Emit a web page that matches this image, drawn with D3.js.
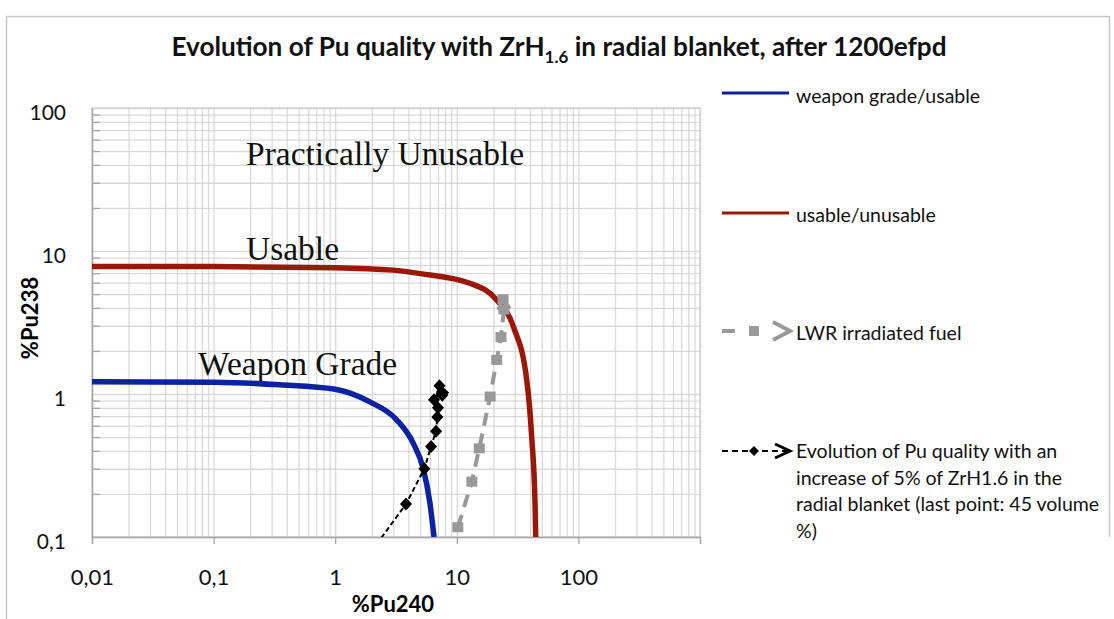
<!DOCTYPE html>
<html><head><meta charset="utf-8">
<script src="https://cdn.jsdelivr.net/npm/d3@7"></script>
<style>
html,body{margin:0;padding:0;background:#fff;}
svg{display:block;}
</style></head>
<body>
<svg id="chart" width="1114" height="619"></svg>
<script>
// ---- data ----
const xTickValues = [0.01, 0.1, 1, 10, 100];
const xTickLabels = ["0,01", "0,1", "1", "10", "100"];
const yTickValues = [0.1, 1, 10, 100];
const yTickLabels = ["0,1", "1", "10", "100"];

// weapon grade / usable boundary
const wgX = [0.01, 0.1, 0.35, 1, 1.93, 3.2, 4.4, 5.3, 6.0, 6.5];
const wgY = [1.22, 1.21, 1.16, 1.08, 0.88, 0.66, 0.45, 0.30, 0.175, 0.1];
// usable / unusable boundary
const uuX = [0.01, 0.1, 1, 3, 5, 12.8, 21.3, 29.2, 37.6, 41.3, 44, 44.6];
const uuY = [7.8, 7.78, 7.65, 7.35, 6.95, 5.95, 4.54, 2.96, 1.25, 0.5, 0.17, 0.1];
// LWR irradiated fuel
const lwrX = [10.2, 13.3, 15.3, 18.8, 21.3, 23.1, 24.4, 24.0];
const lwrY = [0.117, 0.244, 0.417, 0.96, 1.73, 2.5, 3.9, 4.6];
// Evolution with ZrH1.6 increase (0..45 vol%)
const zrX = [2.0, 3.82, 5.41, 6.14, 6.75, 6.92, 7.0, 6.5, 7.6, 7.2];
const zrY = [0.08, 0.17, 0.30, 0.43, 0.55, 0.69, 0.80, 0.91, 0.98, 1.14];

const legendLabels = [
  "weapon grade/usable",
  "usable/unusable",
  "LWR irradiated fuel",
  ["Evolution of Pu quality with an", "increase of 5% of ZrH1.6 in the", "radial blanket (last point: 45 volume", "%)"]
];

// ---- layout ----
const svg = d3.select("#chart");
const L = 92, R = 700, T = 108, B = 537;
const x = d3.scaleLog().domain([0.01, 1000]).range([L, R]);
const y = d3.scaleLog().domain([0.1, 100]).range([B, T]);

svg.append("path").attr("d", `M6.5,619 V16.5 H1109.5 V537`)
  .attr("fill", "none").attr("stroke", "#c8c8c8").attr("stroke-width", 1.5);

function gridVals(lo, hi) {
  const v = [];
  for (let d = lo; d < hi; d *= 10) for (let m = 1; m <= 9; m++) v.push(d * m);
  v.push(hi);
  return v;
}
const xGrid = gridVals(0.01, 1000);
const yGrid = gridVals(0.1, 100);

const grid = svg.append("g");
grid.append("g").attr("transform", `translate(0,${B})`)
  .call(d3.axisBottom(x).tickValues(xGrid).tickSize(-(B - T)).tickFormat(""))
  .call(g => g.select(".domain").remove())
  .call(g => g.selectAll("line").attr("stroke", "#d9d9d9").attr("stroke-width", 1.3));
grid.append("g").attr("transform", `translate(${L},0)`)
  .call(d3.axisLeft(y).tickValues(yGrid).tickSize(-(R - L)).tickFormat(""))
  .call(g => g.select(".domain").remove())
  .call(g => g.selectAll("line").attr("stroke", "#d9d9d9").attr("stroke-width", 1.3));

svg.append("rect").attr("x", L).attr("y", T).attr("width", R - L).attr("height", B - T)
  .attr("fill", "none").attr("stroke", "#d0d0d0").attr("stroke-width", 1.3);

const yMinor = yGrid.filter(v => !yTickValues.includes(v));
svg.append("g").attr("transform", `translate(${L},0)`)
  .call(d3.axisRight(y).tickValues(yMinor).tickSize(8).tickFormat(""))
  .call(g => g.select(".domain").remove())
  .call(g => g.selectAll("line").attr("stroke", "#a6a6a6").attr("stroke-width", 1.3));

const fontUI = "Lato, 'Open Sans', sans-serif";
svg.append("g").attr("transform", `translate(0,${B})`)
  .call(d3.axisBottom(x).tickValues(xTickValues).tickSize(7).tickPadding(25)
    .tickFormat((d, i) => xTickLabels[i]))
  .call(g => g.select(".domain").attr("stroke", "#a6a6a6").attr("stroke-width", 1.5))
  .call(g => g.selectAll("line").attr("stroke", "#a6a6a6").attr("stroke-width", 1.3))
  .call(g => g.selectAll("text").attr("font-family", fontUI).attr("font-size", 22).attr("fill", "#111"));
svg.append("g").attr("transform", `translate(${L},0)`)
  .call(d3.axisLeft(y).tickValues(yTickValues).tickSize(0).tickPadding(26)
    .tickFormat((d, i) => yTickLabels[i]))
  .call(g => g.select(".domain").attr("stroke", "#a6a6a6").attr("stroke-width", 1.5))
  .call(g => g.selectAll("text").attr("font-family", fontUI).attr("font-size", 21).attr("fill", "#111").attr("dy", "0.55em"));

svg.append("text").attr("x", 393).attr("y", 612).attr("text-anchor", "middle")
  .attr("font-family", fontUI).attr("font-weight", "bold").attr("font-size", 22).text("%Pu240");
svg.append("text").attr("transform", "translate(38,318) rotate(-90)").attr("text-anchor", "middle")
  .attr("font-family", fontUI).attr("font-weight", "bold").attr("font-size", 22).text("%Pu238");

const title = svg.append("text").attr("x", 559).attr("y", 56).attr("text-anchor", "middle")
  .attr("font-family", fontUI).attr("font-weight", "bold").attr("font-size", 26.2).attr("fill", "#111");
title.append("tspan").text("Evolution of Pu quality with ZrH");
title.append("tspan").attr("font-size", 17).attr("dy", 7).text("1.6");
title.append("tspan").attr("dy", -7).text(" in radial blanket, after 1200efpd");

const fontSerif = "'Liberation Serif', 'DejaVu Serif', serif";
[["Practically Unusable", 246, 165], ["Usable", 246, 260], ["Weapon Grade", 198, 375]].forEach(([t, tx, ty]) => {
  svg.append("text").attr("x", tx).attr("y", ty).attr("font-family", fontSerif)
    .attr("font-size", 33.5).attr("fill", "#111").text(t);
});

svg.append("defs").append("clipPath").attr("id", "clip")
  .append("rect").attr("x", L).attr("y", T).attr("width", R - L).attr("height", B - T);

const defs = svg.select("defs");
function addMarker(id, color, w) {
  defs.append("marker").attr("id", id).attr("viewBox", "-12 -8 14 16")
    .attr("markerWidth", 14).attr("markerHeight", 16).attr("refX", 0).attr("refY", 0)
    .attr("orient", "auto").attr("markerUnits", "userSpaceOnUse")
    .append("path").attr("d", "M-10,-6 L0,0 L-10,6").attr("fill", "none")
    .attr("stroke", color).attr("stroke-width", w);
}
addMarker("arrGray", "#999", 3.5);
addMarker("arrBlack", "#000", 3);

const plot = svg.append("g").attr("clip-path", "url(#clip)");
const smooth = d3.line().x(d => x(d[0])).y(d => y(d[1])).curve(d3.curveMonotoneX);
const straight = d3.line().x(d => x(d[0])).y(d => y(d[1]));

plot.append("path").attr("d", smooth(d3.zip(wgX, wgY)))
  .attr("fill", "none").attr("stroke", "#0c22a0").attr("stroke-width", 5.5);
plot.append("path").attr("d", smooth(d3.zip(uuX, uuY)))
  .attr("fill", "none").attr("stroke", "#9a1808").attr("stroke-width", 5.5);

const lwr = d3.zip(lwrX, lwrY);
plot.append("path").attr("d", straight(lwr))
  .attr("fill", "none").attr("stroke", "#999").attr("stroke-width", 4)
  .attr("stroke-dasharray", "13,8").attr("marker-end", "url(#arrGray)");
plot.selectAll(".sq").data(lwr).join("rect")
  .attr("x", d => x(d[0]) - 5.5).attr("y", d => y(d[1]) - 5).attr("width", 11).attr("height", 10)
  .attr("fill", "#999");

const zr = d3.zip(zrX, zrY);
plot.append("path").attr("d", straight(zr))
  .attr("fill", "none").attr("stroke", "#000").attr("stroke-width", 2)
  .attr("stroke-dasharray", "5,3").attr("marker-end", "url(#arrBlack)");
plot.selectAll(".dm").data(zr).join("path")
  .attr("transform", d => `translate(${x(d[0])},${y(d[1])})`)
  .attr("d", "M0,-6.5 L6,0 L0,6.5 L-6,0Z").attr("fill", "#000");

const lg = svg.append("g").attr("font-family", fontUI).attr("font-size", 19.5).attr("fill", "#111");
lg.append("line").attr("x1", 722).attr("x2", 789).attr("y1", 93).attr("y2", 93)
  .attr("stroke", "#0c22a0").attr("stroke-width", 3);
lg.append("text").attr("x", 796).attr("y", 103).text(legendLabels[0]);
lg.append("line").attr("x1", 722).attr("x2", 789).attr("y1", 213).attr("y2", 213)
  .attr("stroke", "#9a1808").attr("stroke-width", 3);
lg.append("text").attr("x", 796).attr("y", 222).text(legendLabels[1]);
lg.append("line").attr("x1", 722).attr("x2", 735).attr("y1", 331).attr("y2", 331)
  .attr("stroke", "#999").attr("stroke-width", 4);
lg.append("rect").attr("x", 749).attr("y", 326).attr("width", 10).attr("height", 10).attr("fill", "#999");
lg.append("path").attr("d", "M773,322 L790,331 L773,340").attr("fill", "none")
  .attr("stroke", "#999").attr("stroke-width", 4);
lg.append("text").attr("x", 796).attr("y", 340).text(legendLabels[2]);
lg.append("line").attr("x1", 722).attr("x2", 790).attr("y1", 451).attr("y2", 451)
  .attr("stroke", "#000").attr("stroke-width", 2).attr("stroke-dasharray", "6,4");
lg.append("path").attr("d", "M754,446 L759,451 L754,456 L749,451Z").attr("fill", "#000");
lg.append("path").attr("d", "M775,444 L790,451 L775,458").attr("fill", "none")
  .attr("stroke", "#000").attr("stroke-width", 3);
const t4 = lg.append("text").attr("x", 796).attr("y", 458);
legendLabels[3].forEach((s, i) => t4.append("tspan").attr("x", 796).attr("dy", i ? 26.5 : 0).text(s));
</script>
</body></html>
